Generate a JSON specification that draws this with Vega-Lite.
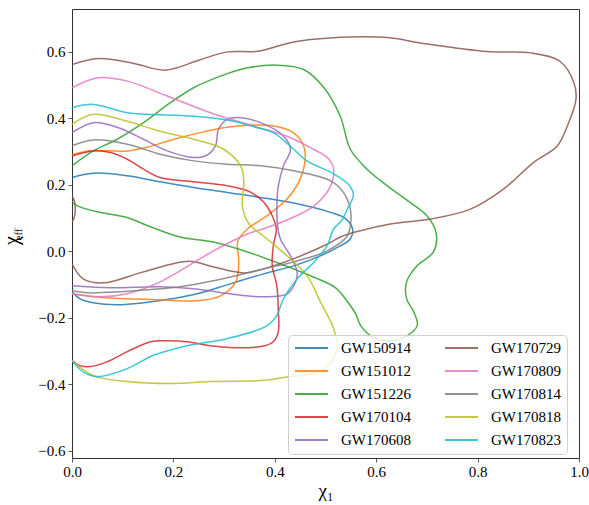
{
"$schema":"https://vega.github.io/schema/vega-lite/v6.json",
"width":507,"height":449,
"autosize":{"type":"none"},
"padding":{"left":72,"top":9,"right":10,"bottom":47},
"background":"white",
"config":{
 "view":{"stroke":"#333","strokeWidth":1},
 "axis":{"domain":false,"grid":false,"tickColor":"#333","tickSize":4,"tickWidth":0.8,"labelFont":"Liberation Serif","labelFontSize":15,"labelColor":"#000","titleFont":"Liberation Serif","titleColor":"#000","titleFontWeight":"normal","labelFlush":false,"labelOverlap":false},
 "legend":{"orient":"none","legendX":216,"legendY":326,"columns":2,"symbolType":"stroke","symbolSize":1089,"symbolStrokeWidth":2,"clipHeight":14,"rowPadding":8,"columnPadding":33,"labelOffset":12,"labelFont":"Liberation Serif","labelFontSize":15,"labelColor":"#000","padding":6,"fillColor":"rgba(255,255,255,0.8)","strokeColor":"#d0d0d0","cornerRadius":4}
},
"data":{"values":[
{"e":"GW150914","p":"a","i":0,"x":0,"y":0.222},{"e":"GW150914","p":"a","i":1,"x":0.042,"y":0.235},{"e":"GW150914","p":"a","i":2,"x":0.109,"y":0.227},{"e":"GW150914","p":"a","i":3,"x":0.174,"y":0.209},{"e":"GW150914","p":"a","i":4,"x":0.24,"y":0.192},{"e":"GW150914","p":"a","i":5,"x":0.306,"y":0.177},{"e":"GW150914","p":"a","i":6,"x":0.372,"y":0.162},{"e":"GW150914","p":"a","i":7,"x":0.437,"y":0.145},{"e":"GW150914","p":"a","i":8,"x":0.51,"y":0.117},{"e":"GW150914","p":"a","i":9,"x":0.538,"y":0.1},{"e":"GW150914","p":"a","i":10,"x":0.553,"y":0.07},{"e":"GW150914","p":"a","i":11,"x":0.549,"y":0.037},{"e":"GW150914","p":"a","i":12,"x":0.529,"y":0.016},{"e":"GW150914","p":"a","i":13,"x":0.49,"y":-0.014},{"e":"GW150914","p":"a","i":14,"x":0.437,"y":-0.044},{"e":"GW150914","p":"a","i":15,"x":0.378,"y":-0.068},{"e":"GW150914","p":"a","i":16,"x":0.312,"y":-0.098},{"e":"GW150914","p":"a","i":17,"x":0.247,"y":-0.128},{"e":"GW150914","p":"a","i":18,"x":0.2,"y":-0.142},{"e":"GW150914","p":"a","i":19,"x":0.141,"y":-0.155},{"e":"GW150914","p":"a","i":20,"x":0.089,"y":-0.161},{"e":"GW150914","p":"a","i":21,"x":0.042,"y":-0.155},{"e":"GW150914","p":"a","i":22,"x":0.016,"y":-0.143},{"e":"GW150914","p":"a","i":23,"x":0,"y":-0.122},

{"e":"GW151012","p":"a","i":0,"x":0,"y":0.29},{"e":"GW151012","p":"a","i":1,"x":0.03,"y":0.302},{"e":"GW151012","p":"a","i":2,"x":0.109,"y":0.302},{"e":"GW151012","p":"a","i":3,"x":0.148,"y":0.313},{"e":"GW151012","p":"a","i":4,"x":0.201,"y":0.337},{"e":"GW151012","p":"a","i":5,"x":0.253,"y":0.357},{"e":"GW151012","p":"a","i":6,"x":0.306,"y":0.373},{"e":"GW151012","p":"a","i":7,"x":0.346,"y":0.379},{"e":"GW151012","p":"a","i":8,"x":0.397,"y":0.377},{"e":"GW151012","p":"a","i":9,"x":0.431,"y":0.362},{"e":"GW151012","p":"a","i":10,"x":0.454,"y":0.327},{"e":"GW151012","p":"a","i":11,"x":0.46,"y":0.287},{"e":"GW151012","p":"a","i":12,"x":0.45,"y":0.217},{"e":"GW151012","p":"a","i":13,"x":0.424,"y":0.157},{"e":"GW151012","p":"a","i":14,"x":0.385,"y":0.107},{"e":"GW151012","p":"a","i":15,"x":0.346,"y":0.067},{"e":"GW151012","p":"a","i":16,"x":0.327,"y":0.03},{"e":"GW151012","p":"a","i":17,"x":0.329,"y":-0.032},{"e":"GW151012","p":"a","i":18,"x":0.323,"y":-0.092},{"e":"GW151012","p":"a","i":19,"x":0.293,"y":-0.134},{"e":"GW151012","p":"a","i":20,"x":0.247,"y":-0.149},{"e":"GW151012","p":"a","i":21,"x":0.174,"y":-0.146},{"e":"GW151012","p":"a","i":22,"x":0.109,"y":-0.143},{"e":"GW151012","p":"a","i":23,"x":0.042,"y":-0.137},{"e":"GW151012","p":"a","i":24,"x":0,"y":-0.128},

{"e":"GW151226","p":"a","i":0,"x":0,"y":0.257},{"e":"GW151226","p":"a","i":1,"x":0.042,"y":0.302},{"e":"GW151226","p":"a","i":2,"x":0.089,"y":0.337},{"e":"GW151226","p":"a","i":3,"x":0.141,"y":0.387},{"e":"GW151226","p":"a","i":4,"x":0.194,"y":0.447},{"e":"GW151226","p":"a","i":5,"x":0.24,"y":0.492},{"e":"GW151226","p":"a","i":6,"x":0.293,"y":0.527},{"e":"GW151226","p":"a","i":7,"x":0.346,"y":0.552},{"e":"GW151226","p":"a","i":8,"x":0.404,"y":0.56},{"e":"GW151226","p":"a","i":9,"x":0.457,"y":0.547},{"e":"GW151226","p":"a","i":10,"x":0.497,"y":0.492},{"e":"GW151226","p":"a","i":11,"x":0.529,"y":0.407},{"e":"GW151226","p":"a","i":12,"x":0.549,"y":0.307},{"e":"GW151226","p":"a","i":13,"x":0.582,"y":0.247},{"e":"GW151226","p":"a","i":14,"x":0.622,"y":0.197},{"e":"GW151226","p":"a","i":15,"x":0.667,"y":0.147},{"e":"GW151226","p":"a","i":16,"x":0.7,"y":0.107},{"e":"GW151226","p":"a","i":17,"x":0.718,"y":0.057},{"e":"GW151226","p":"a","i":18,"x":0.713,"y":-0.002},{"e":"GW151226","p":"a","i":19,"x":0.681,"y":-0.043},{"e":"GW151226","p":"a","i":20,"x":0.66,"y":-0.092},{"e":"GW151226","p":"a","i":21,"x":0.66,"y":-0.143},{"e":"GW151226","p":"a","i":22,"x":0.674,"y":-0.182},{"e":"GW151226","p":"a","i":23,"x":0.681,"y":-0.223},{"e":"GW151226","p":"a","i":24,"x":0.66,"y":-0.255},{"e":"GW151226","p":"a","i":25,"x":0.625,"y":-0.27},{"e":"GW151226","p":"a","i":26,"x":0.59,"y":-0.255},{"e":"GW151226","p":"a","i":27,"x":0.569,"y":-0.223},{"e":"GW151226","p":"a","i":28,"x":0.56,"y":-0.19},{"e":"GW151226","p":"a","i":29,"x":0.545,"y":-0.155},{"e":"GW151226","p":"a","i":30,"x":0.52,"y":-0.11},{"e":"GW151226","p":"a","i":31,"x":0.477,"y":-0.078},{"e":"GW151226","p":"a","i":32,"x":0.411,"y":-0.038},{"e":"GW151226","p":"a","i":33,"x":0.346,"y":-0.002},{"e":"GW151226","p":"a","i":34,"x":0.279,"y":0.028},{"e":"GW151226","p":"a","i":35,"x":0.213,"y":0.043},{"e":"GW151226","p":"a","i":36,"x":0.151,"y":0.076},{"e":"GW151226","p":"a","i":37,"x":0.105,"y":0.103},{"e":"GW151226","p":"a","i":38,"x":0.052,"y":0.118},{"e":"GW151226","p":"a","i":39,"x":0.012,"y":0.136},{"e":"GW151226","p":"a","i":40,"x":0,"y":0.148},

{"e":"GW170104","p":"a","i":0,"x":0,"y":0.287},{"e":"GW170104","p":"a","i":1,"x":0.042,"y":0.302},{"e":"GW170104","p":"a","i":2,"x":0.076,"y":0.297},{"e":"GW170104","p":"a","i":3,"x":0.109,"y":0.277},{"e":"GW170104","p":"a","i":4,"x":0.141,"y":0.247},{"e":"GW170104","p":"a","i":5,"x":0.174,"y":0.222},{"e":"GW170104","p":"a","i":6,"x":0.24,"y":0.209},{"e":"GW170104","p":"a","i":7,"x":0.306,"y":0.197},{"e":"GW170104","p":"a","i":8,"x":0.352,"y":0.178},{"e":"GW170104","p":"a","i":9,"x":0.378,"y":0.148},{"e":"GW170104","p":"a","i":10,"x":0.395,"y":0.107},{"e":"GW170104","p":"a","i":11,"x":0.403,"y":0.067},{"e":"GW170104","p":"a","i":12,"x":0.397,"y":0.016},{"e":"GW170104","p":"a","i":13,"x":0.395,"y":-0.044},{"e":"GW170104","p":"a","i":14,"x":0.404,"y":-0.104},{"e":"GW170104","p":"a","i":15,"x":0.407,"y":-0.182},{"e":"GW170104","p":"a","i":16,"x":0.407,"y":-0.242},{"e":"GW170104","p":"a","i":17,"x":0.397,"y":-0.272},{"e":"GW170104","p":"a","i":18,"x":0.378,"y":-0.285},{"e":"GW170104","p":"a","i":19,"x":0.35,"y":-0.29},{"e":"GW170104","p":"a","i":20,"x":0.319,"y":-0.29},{"e":"GW170104","p":"a","i":21,"x":0.273,"y":-0.284},{"e":"GW170104","p":"a","i":22,"x":0.227,"y":-0.272},{"e":"GW170104","p":"a","i":23,"x":0.188,"y":-0.269},{"e":"GW170104","p":"a","i":24,"x":0.155,"y":-0.272},{"e":"GW170104","p":"a","i":25,"x":0.109,"y":-0.302},{"e":"GW170104","p":"a","i":26,"x":0.07,"y":-0.332},{"e":"GW170104","p":"a","i":27,"x":0.036,"y":-0.347},{"e":"GW170104","p":"a","i":28,"x":0.016,"y":-0.344},{"e":"GW170104","p":"a","i":29,"x":0,"y":-0.329},

{"e":"GW170608","p":"a","i":0,"x":0,"y":0.357},{"e":"GW170608","p":"a","i":1,"x":0.042,"y":0.387},{"e":"GW170608","p":"a","i":2,"x":0.089,"y":0.373},{"e":"GW170608","p":"a","i":3,"x":0.141,"y":0.337},{"e":"GW170608","p":"a","i":4,"x":0.188,"y":0.302},{"e":"GW170608","p":"a","i":5,"x":0.24,"y":0.282},{"e":"GW170608","p":"a","i":6,"x":0.266,"y":0.289},{"e":"GW170608","p":"a","i":7,"x":0.283,"y":0.317},{"e":"GW170608","p":"a","i":8,"x":0.289,"y":0.367},{"e":"GW170608","p":"a","i":9,"x":0.306,"y":0.397},{"e":"GW170608","p":"a","i":10,"x":0.333,"y":0.402},{"e":"GW170608","p":"a","i":11,"x":0.372,"y":0.387},{"e":"GW170608","p":"a","i":12,"x":0.417,"y":0.347},{"e":"GW170608","p":"a","i":13,"x":0.431,"y":0.307},{"e":"GW170608","p":"a","i":14,"x":0.417,"y":0.257},{"e":"GW170608","p":"a","i":15,"x":0.407,"y":0.197},{"e":"GW170608","p":"a","i":16,"x":0.404,"y":0.127},{"e":"GW170608","p":"a","i":17,"x":0.406,"y":0.07},{"e":"GW170608","p":"a","i":18,"x":0.411,"y":0.037},{"e":"GW170608","p":"a","i":19,"x":0.431,"y":-0.014},{"e":"GW170608","p":"a","i":20,"x":0.444,"y":-0.062},{"e":"GW170608","p":"a","i":21,"x":0.441,"y":-0.092},{"e":"GW170608","p":"a","i":22,"x":0.424,"y":-0.128},{"e":"GW170608","p":"a","i":23,"x":0.378,"y":-0.137},{"e":"GW170608","p":"a","i":24,"x":0.346,"y":-0.134},{"e":"GW170608","p":"a","i":25,"x":0.312,"y":-0.128},{"e":"GW170608","p":"a","i":26,"x":0.24,"y":-0.113},{"e":"GW170608","p":"a","i":27,"x":0.174,"y":-0.107},{"e":"GW170608","p":"a","i":28,"x":0.076,"y":-0.11},{"e":"GW170608","p":"a","i":29,"x":0,"y":-0.104},

{"e":"GW170729","p":"a","i":0,"x":0,"y":0.562},{"e":"GW170729","p":"a","i":1,"x":0.052,"y":0.58},{"e":"GW170729","p":"a","i":2,"x":0.12,"y":0.566},{"e":"GW170729","p":"a","i":3,"x":0.184,"y":0.545},{"e":"GW170729","p":"a","i":4,"x":0.25,"y":0.575},{"e":"GW170729","p":"a","i":5,"x":0.307,"y":0.6},{"e":"GW170729","p":"a","i":6,"x":0.366,"y":0.602},{"e":"GW170729","p":"a","i":7,"x":0.437,"y":0.63},{"e":"GW170729","p":"a","i":8,"x":0.51,"y":0.642},{"e":"GW170729","p":"a","i":9,"x":0.622,"y":0.643},{"e":"GW170729","p":"a","i":10,"x":0.687,"y":0.627},{"e":"GW170729","p":"a","i":11,"x":0.819,"y":0.601},{"e":"GW170729","p":"a","i":12,"x":0.904,"y":0.597},{"e":"GW170729","p":"a","i":13,"x":0.963,"y":0.571},{"e":"GW170729","p":"a","i":14,"x":0.99,"y":0.507},{"e":"GW170729","p":"a","i":15,"x":0.994,"y":0.457},{"e":"GW170729","p":"a","i":16,"x":0.977,"y":0.377},{"e":"GW170729","p":"a","i":17,"x":0.957,"y":0.317},{"e":"GW170729","p":"a","i":18,"x":0.91,"y":0.267},{"e":"GW170729","p":"a","i":19,"x":0.851,"y":0.187},{"e":"GW170729","p":"a","i":20,"x":0.786,"y":0.127},{"e":"GW170729","p":"a","i":21,"x":0.707,"y":0.097},{"e":"GW170729","p":"a","i":22,"x":0.628,"y":0.082},{"e":"GW170729","p":"a","i":23,"x":0.569,"y":0.062},{"e":"GW170729","p":"a","i":24,"x":0.529,"y":0.043},{"e":"GW170729","p":"a","i":25,"x":0.504,"y":0.022},{"e":"GW170729","p":"a","i":26,"x":0.436,"y":-0.023},{"e":"GW170729","p":"a","i":27,"x":0.378,"y":-0.053},{"e":"GW170729","p":"a","i":28,"x":0.338,"y":-0.065},{"e":"GW170729","p":"a","i":29,"x":0.279,"y":-0.047},{"e":"GW170729","p":"a","i":30,"x":0.23,"y":-0.03},{"e":"GW170729","p":"a","i":31,"x":0.141,"y":-0.062},{"e":"GW170729","p":"a","i":32,"x":0.062,"y":-0.095},{"e":"GW170729","p":"a","i":33,"x":0.022,"y":-0.083},{"e":"GW170729","p":"a","i":34,"x":0,"y":-0.038},
{"e":"GW170729","p":"b","i":0,"x":0,"y":0.166},{"e":"GW170729","p":"b","i":1,"x":0.004,"y":0.155},{"e":"GW170729","p":"b","i":2,"x":0.0065,"y":0.127},{"e":"GW170729","p":"b","i":3,"x":0.004,"y":0.1},{"e":"GW170729","p":"b","i":4,"x":0,"y":0.088},

{"e":"GW170809","p":"a","i":0,"x":0,"y":0.492},{"e":"GW170809","p":"a","i":1,"x":0.052,"y":0.522},{"e":"GW170809","p":"a","i":2,"x":0.109,"y":0.512},{"e":"GW170809","p":"a","i":3,"x":0.188,"y":0.467},{"e":"GW170809","p":"a","i":4,"x":0.273,"y":0.417},{"e":"GW170809","p":"a","i":5,"x":0.346,"y":0.382},{"e":"GW170809","p":"a","i":6,"x":0.424,"y":0.346},{"e":"GW170809","p":"a","i":7,"x":0.476,"y":0.307},{"e":"GW170809","p":"a","i":8,"x":0.505,"y":0.28},{"e":"GW170809","p":"a","i":9,"x":0.516,"y":0.247},{"e":"GW170809","p":"a","i":10,"x":0.51,"y":0.196},{"e":"GW170809","p":"a","i":11,"x":0.477,"y":0.136},{"e":"GW170809","p":"a","i":12,"x":0.425,"y":0.095},{"e":"GW170809","p":"a","i":13,"x":0.378,"y":0.068},{"e":"GW170809","p":"a","i":14,"x":0.346,"y":0.052},{"e":"GW170809","p":"a","i":15,"x":0.279,"y":0.001},{"e":"GW170809","p":"a","i":16,"x":0.213,"y":-0.059},{"e":"GW170809","p":"a","i":17,"x":0.174,"y":-0.092},{"e":"GW170809","p":"a","i":18,"x":0.109,"y":-0.128},{"e":"GW170809","p":"a","i":19,"x":0.056,"y":-0.137},{"e":"GW170809","p":"a","i":20,"x":0,"y":-0.128},

{"e":"GW170814","p":"a","i":0,"x":0,"y":0.317},{"e":"GW170814","p":"a","i":1,"x":0.042,"y":0.335},{"e":"GW170814","p":"a","i":2,"x":0.109,"y":0.322},{"e":"GW170814","p":"a","i":3,"x":0.174,"y":0.292},{"e":"GW170814","p":"a","i":4,"x":0.24,"y":0.272},{"e":"GW170814","p":"a","i":5,"x":0.306,"y":0.262},{"e":"GW170814","p":"a","i":6,"x":0.372,"y":0.257},{"e":"GW170814","p":"a","i":7,"x":0.437,"y":0.242},{"e":"GW170814","p":"a","i":8,"x":0.51,"y":0.212},{"e":"GW170814","p":"a","i":9,"x":0.535,"y":0.178},{"e":"GW170814","p":"a","i":10,"x":0.549,"y":0.127},{"e":"GW170814","p":"a","i":11,"x":0.549,"y":0.076},{"e":"GW170814","p":"a","i":12,"x":0.543,"y":0.046},{"e":"GW170814","p":"a","i":13,"x":0.503,"y":0.001},{"e":"GW170814","p":"a","i":14,"x":0.444,"y":-0.029},{"e":"GW170814","p":"a","i":15,"x":0.378,"y":-0.053},{"e":"GW170814","p":"a","i":16,"x":0.279,"y":-0.089},{"e":"GW170814","p":"a","i":17,"x":0.213,"y":-0.107},{"e":"GW170814","p":"a","i":18,"x":0.174,"y":-0.113},{"e":"GW170814","p":"a","i":19,"x":0.095,"y":-0.122},{"e":"GW170814","p":"a","i":20,"x":0.03,"y":-0.125},{"e":"GW170814","p":"a","i":21,"x":0,"y":-0.119},

{"e":"GW170818","p":"a","i":0,"x":0,"y":0.382},{"e":"GW170818","p":"a","i":1,"x":0.042,"y":0.412},{"e":"GW170818","p":"a","i":2,"x":0.109,"y":0.391},{"e":"GW170818","p":"a","i":3,"x":0.174,"y":0.361},{"e":"GW170818","p":"a","i":4,"x":0.24,"y":0.337},{"e":"GW170818","p":"a","i":5,"x":0.299,"y":0.307},{"e":"GW170818","p":"a","i":6,"x":0.333,"y":0.256},{"e":"GW170818","p":"a","i":7,"x":0.339,"y":0.207},{"e":"GW170818","p":"a","i":8,"x":0.336,"y":0.137},{"e":"GW170818","p":"a","i":9,"x":0.348,"y":0.085},{"e":"GW170818","p":"a","i":10,"x":0.385,"y":0.037},{"e":"GW170818","p":"a","i":11,"x":0.431,"y":-0.023},{"e":"GW170818","p":"a","i":12,"x":0.464,"y":-0.074},{"e":"GW170818","p":"a","i":13,"x":0.49,"y":-0.152},{"e":"GW170818","p":"a","i":14,"x":0.516,"y":-0.233},{"e":"GW170818","p":"a","i":15,"x":0.523,"y":-0.29},{"e":"GW170818","p":"a","i":16,"x":0.505,"y":-0.345},{"e":"GW170818","p":"a","i":17,"x":0.47,"y":-0.37},{"e":"GW170818","p":"a","i":18,"x":0.431,"y":-0.377},{"e":"GW170818","p":"a","i":19,"x":0.372,"y":-0.389},{"e":"GW170818","p":"a","i":20,"x":0.273,"y":-0.392},{"e":"GW170818","p":"a","i":21,"x":0.194,"y":-0.398},{"e":"GW170818","p":"a","i":22,"x":0.109,"y":-0.392},{"e":"GW170818","p":"a","i":23,"x":0.042,"y":-0.374},{"e":"GW170818","p":"a","i":24,"x":0,"y":-0.329},

{"e":"GW170823","p":"a","i":0,"x":0,"y":0.432},{"e":"GW170823","p":"a","i":1,"x":0.042,"y":0.442},{"e":"GW170823","p":"a","i":2,"x":0.109,"y":0.417},{"e":"GW170823","p":"a","i":3,"x":0.148,"y":0.412},{"e":"GW170823","p":"a","i":4,"x":0.24,"y":0.406},{"e":"GW170823","p":"a","i":5,"x":0.319,"y":0.391},{"e":"GW170823","p":"a","i":6,"x":0.36,"y":0.374},{"e":"GW170823","p":"a","i":7,"x":0.397,"y":0.357},{"e":"GW170823","p":"a","i":8,"x":0.431,"y":0.316},{"e":"GW170823","p":"a","i":9,"x":0.464,"y":0.271},{"e":"GW170823","p":"a","i":10,"x":0.51,"y":0.238},{"e":"GW170823","p":"a","i":11,"x":0.545,"y":0.202},{"e":"GW170823","p":"a","i":12,"x":0.555,"y":0.17},{"e":"GW170823","p":"a","i":13,"x":0.543,"y":0.127},{"e":"GW170823","p":"a","i":14,"x":0.533,"y":0.095},{"e":"GW170823","p":"a","i":15,"x":0.516,"y":0.067},{"e":"GW170823","p":"a","i":16,"x":0.503,"y":0.016},{"e":"GW170823","p":"a","i":17,"x":0.477,"y":-0.033},{"e":"GW170823","p":"a","i":18,"x":0.444,"y":-0.083},{"e":"GW170823","p":"a","i":19,"x":0.417,"y":-0.143},{"e":"GW170823","p":"a","i":20,"x":0.404,"y":-0.193},{"e":"GW170823","p":"a","i":21,"x":0.385,"y":-0.224},{"e":"GW170823","p":"a","i":22,"x":0.306,"y":-0.263},{"e":"GW170823","p":"a","i":23,"x":0.227,"y":-0.284},{"e":"GW170823","p":"a","i":24,"x":0.161,"y":-0.313},{"e":"GW170823","p":"a","i":25,"x":0.109,"y":-0.353},{"e":"GW170823","p":"a","i":26,"x":0.05,"y":-0.377},{"e":"GW170823","p":"a","i":27,"x":0.022,"y":-0.363},{"e":"GW170823","p":"a","i":28,"x":0,"y":-0.329}
]},
"layer":[
 {"mark":{"type":"line","interpolate":"catmull-rom","strokeWidth":1.5,"opacity":0.85,"clip":true},
  "encoding":{
   "x":{"field":"x","type":"quantitative","scale":{"domain":[0,1],"nice":false,"zero":false},"axis":{"values":[0,0.2,0.4,0.6,0.8,1.0],"format":".1f","labelPadding":2,"title":"χ₁","titleFontSize":19,"titlePadding":2}},
   "y":{"field":"y","type":"quantitative","scale":{"domain":[-0.622,0.729],"nice":false,"zero":false},"axis":{"values":[-0.6,-0.4,-0.2,0,0.2,0.4,0.6],"format":".1f","labelPadding":3,"title":"χ","titleFontSize":20,"titleAngle":-90,"titleAlign":"center","titleBaseline":"alphabetic","titleX":-55,"titleY":231}},
   "color":{"field":"e","type":"nominal","title":null,"scale":{"domain":["GW150914","GW151012","GW151226","GW170104","GW170608","GW170729","GW170809","GW170814","GW170818","GW170823"],"range":["#1f77b4","#ff7f0e","#2ca02c","#d62728","#9467bd","#8c564b","#e377c2","#7f7f7f","#bcbd22","#17becf"]}},
   "detail":{"field":"p","type":"nominal"},
   "order":{"field":"i","type":"quantitative"}
  }},
 {"mark":{"type":"point","opacity":0},
  "encoding":{
   "y":{"field":"y","type":"quantitative","axis":{"orient":"left","labels":false,"ticks":false,"domain":false,"grid":false,"title":"eff","titleFontSize":11,"titleAngle":-90,"titleAlign":"center","titleBaseline":"alphabetic","titleX":-51,"titleY":225}}
  }}
],
"resolve":{"axis":{"y":"independent"}}
}
